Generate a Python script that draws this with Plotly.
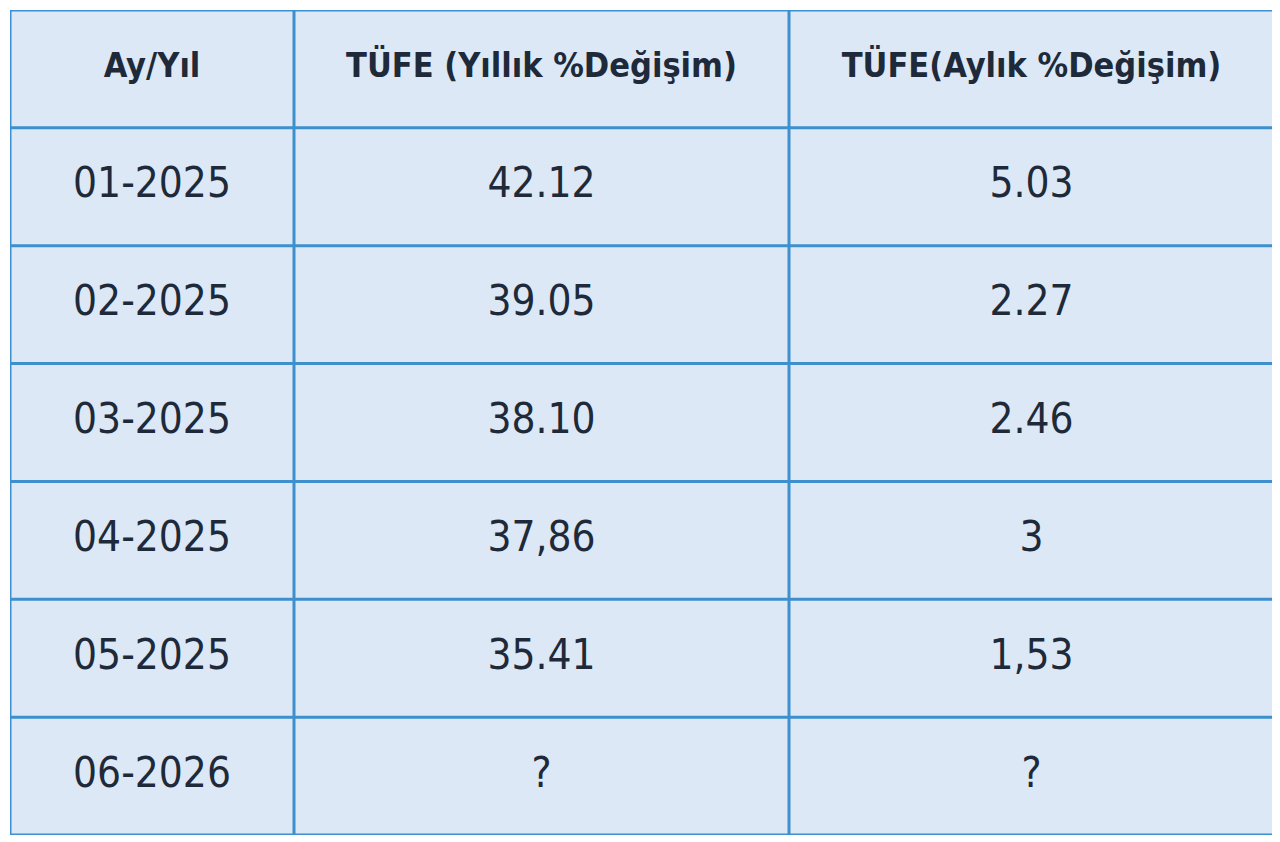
import plotly.graph_objects as go

headers = ["Ay/Yıl", "TÜFE (Yıllık %Değişim)", "TÜFE(Aylık %Değişim)"]
months = ["01-2025", "02-2025", "03-2025", "04-2025", "05-2025", "06-2026"]
yearly = ["42.12", "39.05", "38.10", "37,86", "35.41", "?"]
monthly = ["5.03", "2.27", "2.46", "3", "1,53", "?"]

col_widths = [284, 495, 485]

W, H = 1280, 842
bg = "#dce8f5"
border = "#3d8fcd"
ink = "#1e2a3a"
font_name = "DejaVu Sans Condensed, Liberation Sans Narrow, sans-serif"

# column centres and edges in data units (pixels of the table width)
edges = [0]
for w in col_widths:
    edges.append(edges[-1] + w)
centres = [(edges[i] + edges[i + 1]) / 2 for i in range(len(col_widths))]
n_rows = len(months) + 1
row_y = [n_rows - 0.5 - i for i in range(n_rows)]  # header at top

fig = go.Figure()

# header
fig.add_trace(go.Scatter(
    x=centres, y=[row_y[0]] * 3, mode="text",
    text=["<b>%s</b>" % h for h in headers],
    textfont=dict(family=font_name, size=34, color=ink),
    hoverinfo="skip", showlegend=False,
))

# body columns
for i, col in enumerate([months, yearly, monthly]):
    fig.add_trace(go.Scatter(
        x=[centres[i]] * len(col), y=row_y[1:], mode="text",
        text=col,
        textfont=dict(family=font_name, size=42, color=ink),
        hoverinfo="skip", showlegend=False,
    ))

# grid lines
for e in edges:
    fig.add_shape(type="line", x0=e, x1=e, y0=0, y1=n_rows,
                  line=dict(color=border, width=3))
for r in range(n_rows + 1):
    fig.add_shape(type="line", x0=0, x1=edges[-1], y0=r, y1=r,
                  line=dict(color=border, width=3))

fig.update_xaxes(range=[0, edges[-1]], visible=False, fixedrange=True)
fig.update_yaxes(range=[0, n_rows], visible=False, fixedrange=True)

fig.update_layout(
    width=W, height=H,
    margin=dict(l=2, r=14, t=2, b=15),
    paper_bgcolor="white",
    plot_bgcolor=bg,
)

fig.write_html("out.html")
